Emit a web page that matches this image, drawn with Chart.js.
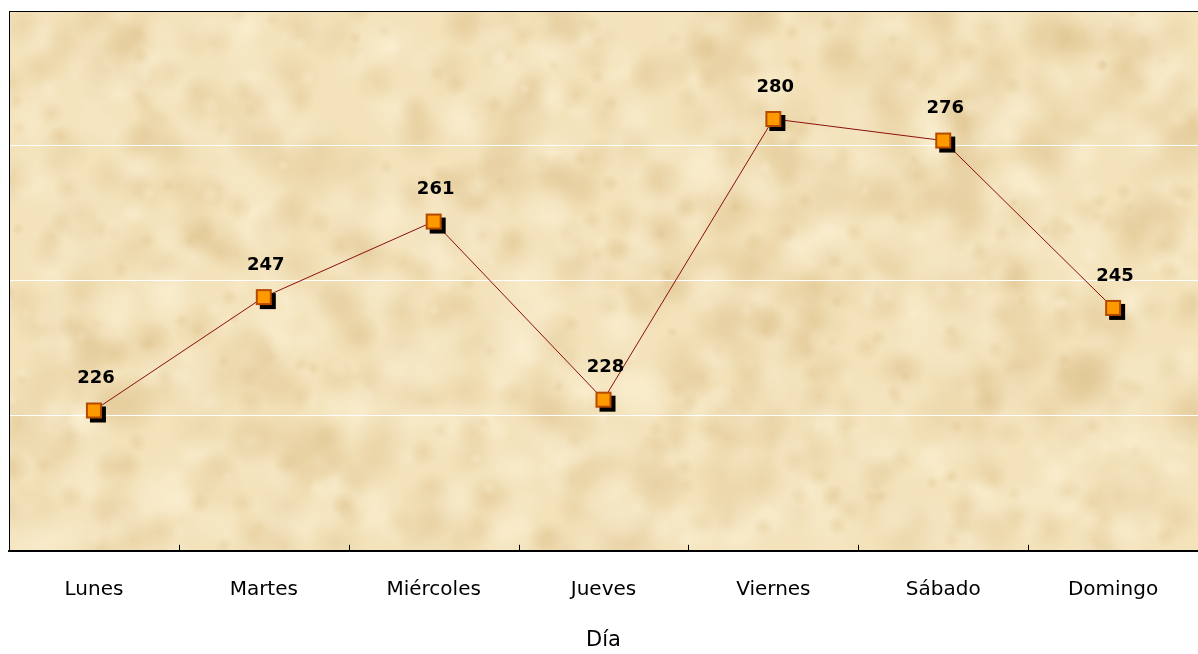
<!DOCTYPE html>
<html lang="es">
  <head>
    <meta charset="UTF-8" />
    <title>Día</title>
    <script src="https://cdn.jsdelivr.net/npm/chart.js"></script>
    <style>
      body {
        margin: 0;
        background: #ffffff;
        overflow: hidden;
      }
      .chart-box {
        width: 1198px;
        height: 654px;
      }
    </style>
  </head>
  <body>
    <div class="chart-box">
      <canvas id="diaChart"></canvas>
    </div>

    <script>
      var dias = ["Lunes", "Martes", "Miércoles", "Jueves", "Viernes", "Sábado", "Domingo"];
      var valores = [226, 247, 261, 228, 280, 276, 245];
      var yMin = 200;
      var yMax = 300;
      var yPaso = 25;

      var fuente = "Tahoma, 'DejaVu Sans', Verdana, sans-serif";

      // marker: orange square with a black drop shadow
      function makeMarker() {
        var c = document.createElement("canvas");
        c.width = 28;
        c.height = 28;
        var g = c.getContext("2d");
        g.fillStyle = "#000000";
        g.fillRect(10, 10, 16, 16);
        g.fillStyle = "#ff9900";
        g.fillRect(6, 6, 16, 16);
        g.strokeStyle = "#b34a00";
        g.lineWidth = 2;
        g.strokeRect(7, 7, 14, 14);
        return c;
      }

      // parchment-like texture for the plot area
      function makeTexture(w, h) {
        var c = document.createElement("canvas");
        c.width = w;
        c.height = h;
        var g = c.getContext("2d");
        g.fillStyle = "#f3e2ba";
        g.fillRect(0, 0, w, h);
        var seed = 7;
        function rnd() {
          seed = (seed * 16807) % 2147483647;
          return seed / 2147483647;
        }
        for (var i = 0; i < 1400; i++) {
          var x = rnd() * w, y = rnd() * h, r = 6 + rnd() * 30;
          var dark = rnd() < 0.5;
          var col = dark ? "220,190,135" : "252,242,215";
          var grad = g.createRadialGradient(x, y, 0, x, y, r);
          grad.addColorStop(0, "rgba(" + col + ",0.35)");
          grad.addColorStop(1, "rgba(" + col + ",0)");
          g.fillStyle = grad;
          g.fillRect(x - r, y - r, r * 2, r * 2);
        }
        return c;
      }

      var fondoPlugin = {
        id: "fondo",
        beforeDraw: function (chart) {
          var a = chart.chartArea;
          var ctx = chart.ctx;
          if (!chart._tex) chart._tex = makeTexture(Math.round(a.right - a.left), Math.round(a.bottom - a.top));
          ctx.drawImage(chart._tex, a.left, a.top);
        },
        afterDraw: function (chart) {
          // short tick marks between categories, inside plot area
          var ctx = chart.ctx;
          var x = chart.scales.x;
          var a = chart.chartArea;
          var w = (a.right - a.left) / dias.length;
          ctx.save();
          ctx.strokeStyle = "#000000";
          ctx.lineWidth = 1;
          for (var i = 1; i < dias.length; i++) {
            var px = Math.round(x.getPixelForValue(i) - w / 2) + 0.5;
            ctx.beginPath();
            ctx.moveTo(px, a.bottom);
            ctx.lineTo(px, a.bottom - 6);
            ctx.stroke();
          }
          ctx.restore();
        },
      };

      var etiquetasPlugin = {
        id: "etiquetas",
        afterDatasetsDraw: function (chart) {
          var ctx = chart.ctx;
          var meta = chart.getDatasetMeta(0);
          ctx.save();
          ctx.font = "bold 18px " + fuente;
          ctx.fillStyle = "#000000";
          ctx.textAlign = "center";
          ctx.textBaseline = "middle";
          meta.data.forEach(function (pt, i) {
            ctx.fillText(String(valores[i]), pt.x + 2, pt.y - 32);
          });
          ctx.restore();
        },
      };

      new Chart(document.getElementById("diaChart").getContext("2d"), {
        type: "line",
        data: {
          labels: dias,
          datasets: [
            {
              data: valores,
              borderColor: "#8b1010",
              borderWidth: 1,
              pointStyle: makeMarker(),
              pointRadius: 10,
              pointHoverRadius: 10,
              tension: 0,
            },
          ],
        },
        options: {
          responsive: true,
          maintainAspectRatio: false,
          animation: false,
          layout: { autoPadding: false, padding: { left: 9, top: 11, right: 0, bottom: 1 } },
          plugins: {
            legend: { display: false },
            tooltip: { enabled: false },
          },
          scales: {
            x: {
              offset: true,
              grid: { display: false },
              border: { display: true, color: "#000000", width: 2 },
              ticks: {
                color: "#000000",
                font: { family: fuente, size: 20, lineHeight: 3.1 },
                padding: 0,
              },
              title: {
                display: true,
                text: "Día",
                color: "#000000",
                font: { family: fuente, size: 21 },
                padding: { top: 7, bottom: 0 },
              },
            },
            y: {
              min: yMin,
              max: yMax,
              ticks: { display: false, stepSize: yPaso },
              border: { display: true, color: "#000000", width: 1 },
              grid: {
                drawTicks: false,
                color: function (c) {
                  if (c.tick.value === yMax) return "#000000";
                  if (c.tick.value === yMin) return "rgba(0,0,0,0)";
                  return "#ffffff";
                },
              },
            },
          },
        },
        plugins: [fondoPlugin, etiquetasPlugin],
      });
    </script>
  </body>
</html>
